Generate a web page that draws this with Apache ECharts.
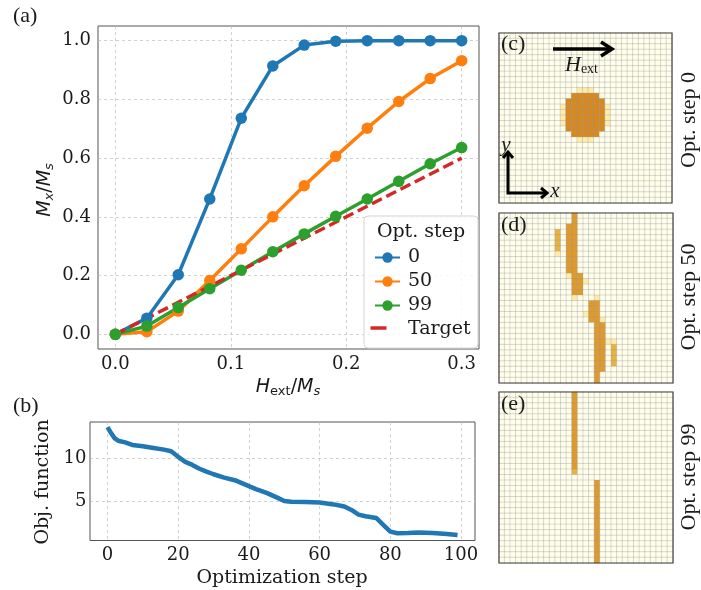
<!DOCTYPE html>
<html><head><meta charset="utf-8">
<script src="https://cdn.jsdelivr.net/npm/echarts@6/dist/echarts.min.js"></script>
<style>html,body{margin:0;padding:0;background:#fff}#c{width:701px;height:590px}</style>
</head><body><div id="c"></div>
<script>
// ---- data ----
const hExt = [0, 0.0273, 0.0545, 0.0818, 0.1091, 0.1364, 0.1636, 0.1909, 0.2182, 0.2455, 0.2727, 0.3];
const mxStep0 = [0, 0.055, 0.203, 0.461, 0.736, 0.914, 0.985, 0.998, 1.0, 1.0, 1.0, 1.0];
const mxStep50 = [0, 0.009, 0.079, 0.183, 0.291, 0.400, 0.506, 0.606, 0.702, 0.793, 0.871, 0.932];
const mxStep99 = [0, 0.028, 0.091, 0.155, 0.218, 0.281, 0.342, 0.402, 0.461, 0.521, 0.581, 0.636];
const targetH = [0, 0.3];
const targetM = [0, 0.6];
const legendNames = ['0', '50', '99', 'Target'];
const objSteps = [0,1,2,3,5,7,10,13,16,18,20,22,24,26,28,30,33,36,38,40,42,45,48,50,52,56,60,64,67,69,71,73,76,78,80,82,85,88,92,96,99];
const objValues = [13.7,13.0,12.4,12.1,11.9,11.6,11.45,11.25,11.05,10.85,10.2,9.6,9.25,8.8,8.45,8.15,7.75,7.45,7.1,6.75,6.4,5.95,5.4,5.0,4.9,4.88,4.82,4.6,4.35,3.95,3.4,3.2,3.0,2.2,1.4,1.2,1.22,1.3,1.22,1.12,1.0];
const xTicksA = [0, 0.1, 0.2, 0.3];
const yTicksA = [0, 0.2, 0.4, 0.6, 0.8, 1.0];
const xTicksB = [0, 20, 40, 60, 80, 100];
const yTicksB = [5, 10];
const gridN = 31;
// cell blocks: [rowStart,rowEnd,colStart,colEnd,level]
const cellsStep0 = [[10,10,14,16,1],[11,11,13,17,4],[12,17,12,18,4],[13,16,11,11,1],[13,16,19,19,1],[18,18,13,17,4],[19,19,14,16,1]];
const cellsStep50 = [[0,1,13,13,3],[2,10,12,13,3],[3,6,10,10,2],[7,7,10,10,1],[11,11,12,12,1],[11,14,13,14,3],[12,12,15,15,1],[15,15,13,13,1],[15,15,17,17,1],[16,19,16,17,3],[18,18,15,15,1],[19,19,18,18,1],[20,28,17,18,3],[23,23,19,20,1],[24,27,20,20,2],[29,30,17,17,3]];
const cellsStep99 = [[0,13,13,13,3],[14,14,13,13,2],[16,30,17,17,3]];
const levelColors = ['#fffee9', '#feeca8', '#e9b23c', '#e09a2a', '#d7891d'];

function buildHeat(runs) {
  const g = Array.from({length: gridN}, () => Array(gridN).fill(0));
  runs.forEach(([r0, r1, c0, c1, l]) => {
    for (let r = r0; r <= r1; r++) for (let c = c0; c <= c1; c++) g[r][c] = l;
  });
  const out = [];
  for (let r = 0; r < gridN; r++) for (let c = 0; c < gridN; c++) out.push([c, r, g[r][c]]);
  return out;
}
const cats = Array.from({length: gridN}, (_, i) => i);

const serifTick = {fontFamily: 'DejaVu Serif', fontSize: 18, color: '#1a1a1a'};
const gridLine = {show: true, lineStyle: {type: [3, 3], color: '#c4c4c4', width: 0.8}};
const frameGrid = {show: true, borderColor: '#555', borderWidth: 1, backgroundColor: 'transparent'};

const heatAxisX = gi => ({type: 'category', data: cats, gridIndex: gi, show: false});
const heatAxisY = gi => ({type: 'category', data: cats, gridIndex: gi, show: false, inverse: true});
const heatSeries = (gi, runs) => ({
  type: 'heatmap', xAxisIndex: gi, yAxisIndex: gi, data: buildHeat(runs),
  itemStyle: {borderColor: 'rgba(150,150,165,0.32)', borderWidth: 1}, emphasis: {disabled: true}, silent: true
});

const lineA = (name, vals, color) => ({
  name, type: 'line', xAxisIndex: 0, yAxisIndex: 0,
  data: hExt.map((x, i) => [x, vals[i]]),
  symbol: 'circle', symbolSize: 11.5, color,
  lineStyle: {width: 3.5, color}, itemStyle: {color}
});

const serifR = (size, extra) => Object.assign({fontFamily: 'Liberation Serif', fontSize: size, fill: '#1a1a1a'}, extra || {});
const sub = {fontSize: 13, lineHeight: 8, verticalAlign: 'bottom'};
const option = {
  animation: false,
  grid: [
    Object.assign({left: 98, top: 26, width: 381, height: 323}, frameGrid),
    Object.assign({left: 90, top: 422, width: 385, height: 118.5}, frameGrid),
    {left: 499, top: 33, width: 173, height: 170},
    {left: 499, top: 213, width: 174, height: 170},
    {left: 499, top: 392, width: 174, height: 171}
  ],
  xAxis: [
    {type: 'value', gridIndex: 0, min: -0.015, max: 0.315,
     axisLine: {show: false}, axisTick: {show: false, customValues: xTicksA}, splitLine: gridLine,
     axisLabel: Object.assign({customValues: xTicksA, formatter: v => v.toFixed(1), margin: 6}, serifTick)},
    {type: 'value', gridIndex: 1, min: -4.95, max: 103.95,
     axisLine: {show: false}, axisTick: {show: false, customValues: xTicksB}, splitLine: gridLine,
     axisLabel: Object.assign({customValues: xTicksB, margin: 6}, serifTick)},
    heatAxisX(2), heatAxisX(3), heatAxisX(4)
  ],
  yAxis: [
    {type: 'value', gridIndex: 0, min: -0.05, max: 1.05,
     axisLine: {show: false}, axisTick: {show: false, customValues: yTicksA}, splitLine: gridLine,
     axisLabel: Object.assign({customValues: yTicksA, formatter: v => v.toFixed(1), margin: 7}, serifTick)},
    {type: 'value', gridIndex: 1, min: 0.35, max: 14.3,
     axisLine: {show: false}, axisTick: {show: false, customValues: yTicksB}, splitLine: gridLine,
     axisLabel: Object.assign({customValues: yTicksB, margin: 3.5}, serifTick)},
    heatAxisY(2), heatAxisY(3), heatAxisY(4)
  ],
  legend: {
    data: legendNames.map(n => n === 'Target' ? {name: n, icon: 'rect', itemStyle: {color: 'rgba(0,0,0,0)', borderWidth: 0}} : {name: n}),
    orient: 'vertical', left: 369, top: 243, itemWidth: 25, itemHeight: 13, itemGap: 5,
    textStyle: {fontFamily: 'DejaVu Serif', fontSize: 19, color: '#1a1a1a', lineHeight: 19, padding: [0, 0, 0, 3]},
    z: 12, selectedMode: false
  },
  visualMap: {
    type: 'piecewise', show: false, seriesIndex: [5, 6, 7], dimension: 2,
    pieces: levelColors.map((c, i) => ({value: i, color: c}))
  },
  series: [
    lineA('0', mxStep0, '#1f77b4'),
    lineA('50', mxStep50, '#ff7f0e'),
    lineA('99', mxStep99, '#2ca02c'),
    {name: 'Target', type: 'line', xAxisIndex: 0, yAxisIndex: 0,
     data: targetH.map((x, i) => [x, targetM[i]]), showSymbol: false, symbol: 'none', color: '#d62728',
     lineStyle: {width: 3.5, type: [11, 5], color: '#d62728'}},
    {type: 'line', xAxisIndex: 1, yAxisIndex: 1, data: objSteps.map((s, i) => [s, objValues[i]]),
     showSymbol: false, symbol: 'none', lineStyle: {width: 4.5, color: '#1f77b4'}, color: '#1f77b4'},
    heatSeries(2, cellsStep0), heatSeries(3, cellsStep50), heatSeries(4, cellsStep99)
  ],
  graphic: [
    {type: 'rect', shape: {x: 364, y: 216, width: 114, height: 132, r: 4}, z: 11,
     style: {fill: 'rgba(255,255,255,0.85)', stroke: '#d4d4d4', lineWidth: 1}},
    {type: 'text', x: 421, y: 232, z: 13, style: {text: 'Opt. step', fontFamily: 'DejaVu Serif', fontSize: 19, fill: '#1a1a1a', textAlign: 'center', textVerticalAlign: 'middle'}},
    {type: 'line', z: 13, shape: {x1: 370.5, y1: 328, x2: 386.5, y2: 328}, style: {stroke: '#d62728', lineWidth: 3.5}},
    // axis titles
    {type: 'text', x: 288, y: 387, style: {
      text: '{i|H}{s|ext}{n|/}{i|M}{si|s}', textAlign: 'center', textVerticalAlign: 'middle', fill: '#1a1a1a',
      rich: {i: {fontFamily: 'DejaVu Sans', fontStyle: 'italic', fontSize: 19, lineHeight: 22, verticalAlign: 'middle'},
             n: {fontFamily: 'DejaVu Sans', fontSize: 19, lineHeight: 22, verticalAlign: 'middle'},
             s: Object.assign({fontFamily: 'DejaVu Sans'}, sub),
             si: Object.assign({fontFamily: 'DejaVu Sans', fontStyle: 'italic'}, sub)}}},
    {type: 'text', x: 45, y: 190, rotation: Math.PI / 2, style: {
      text: '{i|M}{si|x}{n|/}{i|M}{si|s}', textAlign: 'center', textVerticalAlign: 'middle', fill: '#1a1a1a',
      rich: {i: {fontFamily: 'DejaVu Sans', fontStyle: 'italic', fontSize: 19, lineHeight: 22, verticalAlign: 'middle'},
             n: {fontFamily: 'DejaVu Sans', fontSize: 19, lineHeight: 22, verticalAlign: 'middle'},
             si: Object.assign({fontFamily: 'DejaVu Sans', fontStyle: 'italic'}, sub)}}},
    {type: 'text', x: 43, y: 482, rotation: Math.PI / 2, style: {text: 'Obj. function', fontFamily: 'DejaVu Serif', fontSize: 19, fill: '#1a1a1a', textAlign: 'center', textVerticalAlign: 'middle'}},
    {type: 'text', x: 282, y: 578, style: {text: 'Optimization step', fontFamily: 'DejaVu Serif', fontSize: 19, fill: '#1a1a1a', textAlign: 'center', textVerticalAlign: 'middle'}},
    // panel letters
    {type: 'text', x: 13, y: 5, style: serifR(22, {text: '(a)'})},
    {type: 'text', x: 13, y: 395, style: serifR(22, {text: '(b)'})},
    {type: 'text', x: 501, y: 33, z: 20, style: serifR(22, {text: '(c)'})},
    {type: 'text', x: 501, y: 214, z: 20, style: serifR(22, {text: '(d)'})},
    {type: 'text', x: 501, y: 393, z: 20, style: serifR(22, {text: '(e)'})},
    // right labels
    {type: 'text', x: 689, y: 120, rotation: Math.PI / 2, style: serifR(22, {text: 'Opt. step 0', textAlign: 'center', textVerticalAlign: 'middle'})},
    {type: 'text', x: 689, y: 297, rotation: Math.PI / 2, style: serifR(22, {text: 'Opt. step 50', textAlign: 'center', textVerticalAlign: 'middle'})},
    {type: 'text', x: 689, y: 477, rotation: Math.PI / 2, style: serifR(22, {text: 'Opt. step 99', textAlign: 'center', textVerticalAlign: 'middle'})},
    // H_ext arrow
    {type: 'line', z: 20, shape: {x1: 553, y1: 49, x2: 610, y2: 49}, style: {stroke: '#000', lineWidth: 3.5}},
    {type: 'polyline', z: 20, shape: {points: [[601, 42], [612, 49], [601, 56]]}, style: {stroke: '#000', lineWidth: 3.5, fill: null}},
    {type: 'text', x: 565, y: 65, z: 20, style: {
      text: '{h|H}{e|ext}', textVerticalAlign: 'middle', fill: '#1a1a1a',
      rich: {h: {fontFamily: 'Liberation Serif', fontStyle: 'italic', fontSize: 22, lineHeight: 22, verticalAlign: 'middle'},
             e: {fontFamily: 'Liberation Serif', fontSize: 14, lineHeight: 8, verticalAlign: 'bottom'}}}},
    // x/y axes indicator
    {type: 'polyline', z: 20, shape: {points: [[508, 153], [508, 193], [546, 193]]}, style: {stroke: '#000', lineWidth: 3, fill: null}},
    {type: 'polyline', z: 20, shape: {points: [[503, 158], [508, 152], [513, 158]]}, style: {stroke: '#000', lineWidth: 3, fill: null}},
    {type: 'polyline', z: 20, shape: {points: [[541, 188], [547, 193], [541, 198]]}, style: {stroke: '#000', lineWidth: 3, fill: null}},
    {type: 'text', x: 506, y: 145, z: 20, style: serifR(21, {text: 'y', fontStyle: 'italic', textAlign: 'center', textVerticalAlign: 'middle'})},
    {type: 'text', x: 555, y: 191, z: 20, style: serifR(21, {text: 'x', fontStyle: 'italic', textAlign: 'center', textVerticalAlign: 'middle'})},
    // heatmap frames
    {type: 'rect', z: 19, shape: {x: 499, y: 33, width: 173, height: 170}, style: {fill: null, stroke: '#444', lineWidth: 1.2}},
    {type: 'rect', z: 19, shape: {x: 499, y: 213, width: 174, height: 170}, style: {fill: null, stroke: '#444', lineWidth: 1.2}},
    {type: 'rect', z: 19, shape: {x: 499, y: 392, width: 174, height: 171}, style: {fill: null, stroke: '#444', lineWidth: 1.2}}
  ]
};
echarts.init(document.getElementById('c')).setOption(option);
</script></body></html>
